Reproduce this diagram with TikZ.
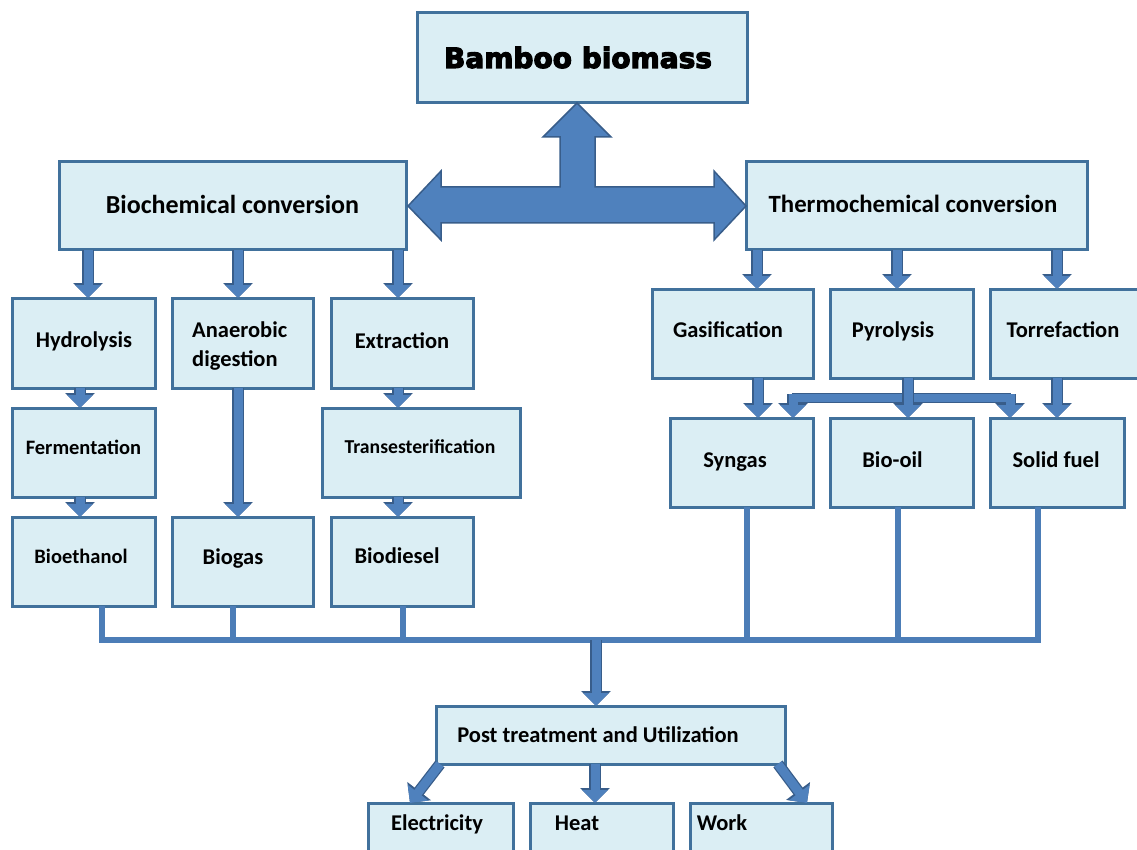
\documentclass[tikz,border=0pt]{standalone}
\usepackage{fontspec}
\setmainfont{Carlito}
\newfontfamily\heavyfont[BoldFeatures={FakeBold=4}]{DejaVu Sans}
\usetikzlibrary{arrows.meta,calc,fit}
\definecolor{boxfill}{HTML}{DBEEF4}
\definecolor{boxline}{HTML}{41719C}
\definecolor{arrfill}{HTML}{4F81BD}
\definecolor{arrline}{HTML}{385D8A}
\begin{document}
\begin{tikzpicture}[x=1pt,y=-1pt,
  box/.style={draw=boxline,line width=3pt,fill=boxfill,inner sep=0pt,outer sep=0pt},
  lbl/.style={font=\bfseries\fontsize{22.5}{27}\selectfont,text height=14.5pt,text depth=0pt,inner sep=0pt},
  lblsmall/.style={lbl,font=\bfseries\fontsize{20.5}{25}\selectfont,text height=13.2pt},
  lbltiny/.style={lbl,font=\bfseries\fontsize{19.7}{24}\selectfont,text height=12.7pt},
  lblbig/.style={lbl,font=\bfseries\fontsize{26}{30}\selectfont,text height=16.7pt},
  fat/.style={draw=arrfill,line width=9pt,-{Triangle[width=25pt,length=13pt]},
    preaction={draw=arrline,line width=11.5pt,-{Triangle[width=29pt,length=15pt]}}},
  busline/.style={draw=arrfill!88!arrline,line width=6pt},
  bigarrow/.style={fill=arrfill,draw=arrline,line width=1.5pt,line join=miter}]
\useasboundingbox (0,0) rectangle (1137,850);

% boxes
\node[box,fit={(417,13)(747,103)}] (bamboo) {};
\node[box,fit={(59,162)(406,250)}] (bio) {};
\node[box,fit={(746,162)(1087,250)}] (thermo) {};
\node[box,fit={(12,298)(155,388)}] (hyd) {};
\node[box,fit={(172,298)(313,388)}] (ana) {};
\node[box,fit={(331,298)(473,388)}] (ext) {};
\node[box,fit={(12,408)(155,497)}] (fer) {};
\node[box,fit={(322,408)(520,497)}] (tra) {};
\node[box,fit={(12,517)(155,606)}] (eth) {};
\node[box,fit={(172,517)(313,606)}] (bgs) {};
\node[box,fit={(331,517)(473,606)}] (die) {};
\node[box,fit={(652,289)(813,378)}] (gasif) {};
\node[box,fit={(830,289)(973,378)}] (pyr) {};
\node[box,fit={(990,289)(1150,378)}] (tor) {};
\node[box,fit={(670,418)(813,507)}] (syn) {};
\node[box,fit={(830,418)(973,507)}] (oil) {};
\node[box,fit={(990,418)(1124,507)}] (sol) {};
\node[box,fit={(436,706)(785,764)}] (post) {};
\node[box,fit={(368,803)(513,893)}] (elec) {};
\node[box,fit={(530,803)(673,893)}] (heat) {};
\node[box,fit={(690,803)(832,893)}] (work) {};

% labels
\node[font=\heavyfont\bfseries\fontsize{28}{34}\selectfont,anchor=base,inner sep=0pt] (t-bamboo) at (578,68) {Bamboo biomass};
\node[lblbig] (t-bio) at (232.5,205) {Biochemical conversion};
\node[lblbig,font=\bfseries\fontsize{24.8}{30}\selectfont,text height=16pt] (t-thermo) at (913,205) {Thermochemical conversion};
\node[lbl] (t-hyd) at (84,340) {Hydrolysis};
\node[font=\bfseries\fontsize{22.5}{29}\selectfont,align=left,anchor=west,inner sep=0pt] (t-ana) at (192,346) {Anaerobic\\digestion};
\node[lbl] (t-ext) at (402,341) {Extraction};
\node[lblsmall] (t-fer) at (83.5,448) {Fermentation};
\node[lbltiny] (t-tra) at (420,447) {Transesterification};
\node[lblsmall] (t-eth) at (81,557) {Bioethanol};
\node[lbl] (t-bgs) at (233,557) {Biogas};
\node[lbl] (t-die) at (397,556) {Biodiesel};
\node[lbl] (t-gasif) at (728,330) {Gasification};
\node[lbl] (t-pyr) at (893,330) {Pyrolysis};
\node[lbl] (t-tor) at (1063,330) {Torrefaction};
\node[lbl] (t-syn) at (735,460) {Syngas};
\node[lbl] (t-oil) at (892.5,460) {Bio-oil};
\node[lbl] (t-sol) at (1056,460) {Solid fuel};
\node[lbl] (t-post) at (598,735) {Post treatment and Utilization};
\node[lbl] (t-elec) at (437,823) {Electricity};
\node[lbl] (t-heat) at (577,823) {Heat};
\node[lbl] (t-work) at (722,823) {Work};

% big double arrow between bamboo, bio and thermo
\path[bigarrow] ($(bamboo.south)+(-5,0)$) -- (611,137) -- (595,137) -- (595,187) -- (714,187) -- (714,171)
  -- (thermo.west) -- (714,240) -- (714,223) -- (441,223) -- (441,240)
  -- ($(bio.east)+(2,0)$) -- (441,171) -- (441,187) -- (560,187) -- (560,137) -- (543,137) -- cycle;

% biochemical branch arrows
\draw[fat] ($(bio.south west)+(29,0)$) -- ($(hyd.north)+(4.5,0)$);
\draw[fat] ($(bio.south west)+(179,0)$) -- ($(ana.north)+(-4.5,0)$);
\draw[fat] ($(bio.south west)+(339,0)$) -- ($(ext.north)+(-4,0)$);
\draw[fat] ($(hyd.south)+(-3.5,0)$) -- ($(fer.north)+(-3.5,0)$);
\draw[fat] ($(fer.south)+(-3.5,0)$) -- ($(eth.north)+(-3.5,0)$);
\draw[fat] ($(ana.south)+(-4.5,0)$) -- ($(bgs.north)+(-4.5,0)$);
\draw[fat] ($(ext.south)+(-4,0)$) -- ($(tra.north)+(-23,0)$);
\draw[fat] ($(tra.south)+(-23,0)$) -- ($(die.north)+(-4,0)$);

% thermochemical branch arrows
\draw[fat] ($(thermo.south west)+(11,0)$) -- ($(gasif.north)+(24.5,0)$);
\draw[fat] ($(thermo.south west)+(151,0)$) -- ($(pyr.north)+(-4.5,0)$);
\draw[fat] ($(thermo.south west)+(311,0)$) -- ($(tor.north)+(-13,0)$);
\draw[fat] ($(gasif.south)+(25.5,0)$) -- ($(syn.north)+(16.5,0)$);
\draw[fat] ($(tor.south)+(-13,0)$) -- ($(sol.north)+(0,0)$);
\coordinate (jl) at (793,394);
\coordinate (jr) at (1010,394);
\draw[arrline,line width=10pt] ($(jl)+(-1.2,4)$) -- ($(jr)+(1.2,4)$);
\draw[fat] (jl) -- (syn.north -| jl);
\draw[fat] (jr) -- (sol.north -| jr);
\draw[arrfill,line width=7.5pt] ($(jl)+(-3.3,4)$) -- ($(jr)+(3.3,4)$);
\draw[fat] ($(pyr.south)+(6.5,0)$) -- ($(oil.north)+(6.5,0)$);

% collecting bus
\draw[busline] ($(eth.south)+(18.5,0)$) |- ($(sol.south)+(-19,133)$) -- ($(sol.south)+(-19,0)$);
\draw[busline] ($(bgs.south)+(-9.5,0)$) -- ++(0,34);
\draw[busline] ($(die.south)+(1,0)$) -- ++(0,34);
\draw[busline] ($(syn.south)+(5.5,0)$) -- ++(0,133);
\draw[busline] ($(oil.south)+(-3.5,0)$) -- ++(0,133);
\draw[fat] ($(post.north)+(-14.5,-66)$) -- ($(post.north)+(-14.5,0)$);

% utilization arrows
\draw[fat] ($(post.south west)+(4,0)$) -- ($(elec.north)+(-30.5,0)$);
\draw[fat] ($(post.south)+(-15.5,0)$) -- ($(heat.north)+(-6.5,0)$);
\draw[fat] ($(post.south east)+(-7,0)$) -- ($(work.north)+(46,0)$);
\end{tikzpicture}
\end{document}
